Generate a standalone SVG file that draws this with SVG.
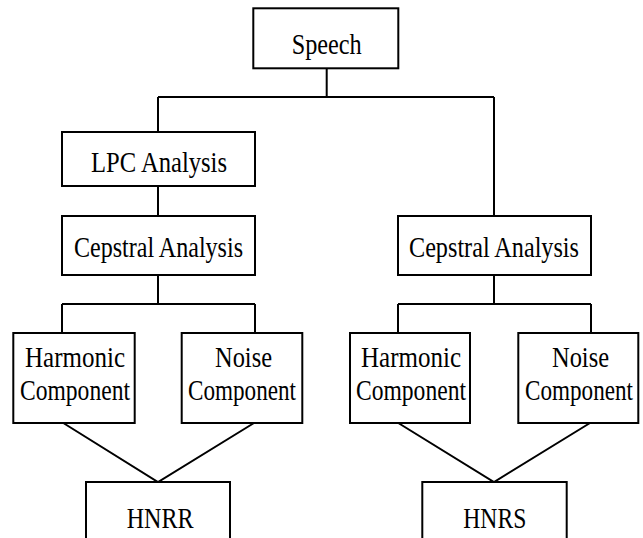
<svg xmlns="http://www.w3.org/2000/svg" width="643" height="538" viewBox="0 0 643 538">
<style>
.box{fill:#fff;stroke:#000;stroke-width:2}
.ln{stroke:#000;stroke-width:2;fill:none}
.t{font-family:'Liberation Serif','Times New Roman',Times,serif;font-size:29px;fill:#000}
</style>
<rect width="643" height="538" fill="#fff"/>
<g id="connectors" class="ln">
<path d="M326.7,68V97M158,97H494M158,97V132M494,97V216M158,186V216M158,275V304M494,275V304M62,304H255M398,304H591M62,304V333M255,304V333M398,304V333M591,304V333"/>
<path d="M63.3,423L158,482L254,423M398.3,423L494,482L590,423"/>
</g>
<g class="t" font-family="Liberation Serif, serif" font-size="29">
<g id="speech"><rect class="box" x="253.3" y="8.3" width="145" height="60"/><text x="291.7" y="54" textLength="70" lengthAdjust="spacingAndGlyphs">Speech</text></g>
<g id="lpc"><rect class="box" x="62" y="132" width="193" height="54"/><text x="91" y="172" textLength="136" lengthAdjust="spacingAndGlyphs">LPC Analysis</text></g>
<g id="cepstral-left"><rect class="box" x="62" y="216" width="193" height="59"/><text x="74" y="257" textLength="169" lengthAdjust="spacingAndGlyphs">Cepstral Analysis</text></g>
<g id="cepstral-right"><rect class="box" x="398" y="216" width="193" height="59"/><text x="409" y="257" textLength="170" lengthAdjust="spacingAndGlyphs">Cepstral Analysis</text></g>
<g id="harmonic-left"><rect class="box" x="13.3" y="333" width="121.4" height="90"/><text x="25" y="367" textLength="100" lengthAdjust="spacingAndGlyphs">Harmonic</text><text x="20" y="400" textLength="110" lengthAdjust="spacingAndGlyphs">Component</text></g>
<g id="noise-left"><rect class="box" x="181.7" y="333" width="120.6" height="90"/><text x="215" y="367" textLength="57" lengthAdjust="spacingAndGlyphs">Noise</text><text x="188" y="400" textLength="108" lengthAdjust="spacingAndGlyphs">Component</text></g>
<g id="harmonic-right"><rect class="box" x="350" y="333" width="120" height="90"/><text x="361" y="367" textLength="100" lengthAdjust="spacingAndGlyphs">Harmonic</text><text x="356" y="400" textLength="110" lengthAdjust="spacingAndGlyphs">Component</text></g>
<g id="noise-right"><rect class="box" x="518.3" y="333" width="120" height="90"/><text x="552" y="367" textLength="57" lengthAdjust="spacingAndGlyphs">Noise</text><text x="525" y="400" textLength="108" lengthAdjust="spacingAndGlyphs">Component</text></g>
<g id="hnrr"><rect class="box" x="86" y="482" width="144" height="70"/><text x="126.7" y="528" textLength="67" lengthAdjust="spacingAndGlyphs">HNRR</text></g>
<g id="hnrs"><rect class="box" x="422.3" y="482" width="144.4" height="70"/><text x="463.3" y="528" textLength="63" lengthAdjust="spacingAndGlyphs">HNRS</text></g>
</g>
</svg>
